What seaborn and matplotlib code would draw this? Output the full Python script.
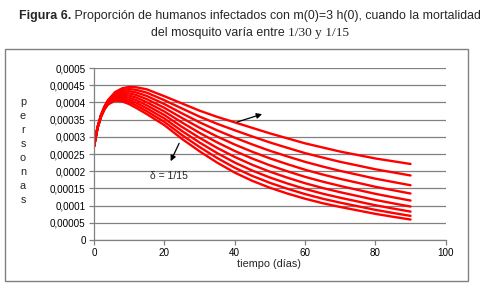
import matplotlib
matplotlib.use("Agg")
import matplotlib.pyplot as plt
from matplotlib import font_manager
from matplotlib.patches import Rectangle
import seaborn as sns
import pandas as pd

# ---------------- data (values in units of 1e-4 personas) ----------------
tiempo = [0, 1, 2, 3, 4, 6, 8, 10, 12, 15, 20, 25, 30, 35, 40, 45, 50, 55, 60, 65, 70, 75, 80, 85, 90]

curva_1 = [2.72, 3.280, 3.640, 3.890, 4.070, 4.300, 4.410, 4.450, 4.440, 4.380, 4.180, 3.970, 3.760, 3.580, 3.420, 3.260, 3.100, 2.955, 2.810, 2.690, 2.570, 2.470, 2.370, 2.290, 2.210]
curva_2 = [2.72, 3.276, 3.633, 3.879, 4.054, 4.269, 4.363, 4.388, 4.365, 4.283, 4.064, 3.824, 3.587, 3.378, 3.190, 3.010, 2.836, 2.679, 2.526, 2.397, 2.272, 2.165, 2.056, 1.966, 1.876]
curva_3 = [2.72, 3.273, 3.625, 3.868, 4.038, 4.238, 4.315, 4.325, 4.290, 4.188, 3.952, 3.683, 3.422, 3.188, 2.976, 2.778, 2.594, 2.429, 2.272, 2.136, 2.009, 1.897, 1.783, 1.687, 1.592]
curva_4 = [2.72, 3.269, 3.618, 3.856, 4.021, 4.206, 4.268, 4.263, 4.215, 4.095, 3.843, 3.547, 3.265, 3.008, 2.776, 2.565, 2.373, 2.203, 2.043, 1.904, 1.777, 1.663, 1.547, 1.448, 1.351]
curva_5 = [2.72, 3.265, 3.610, 3.845, 4.005, 4.175, 4.220, 4.200, 4.140, 4.004, 3.736, 3.416, 3.115, 2.838, 2.589, 2.368, 2.171, 1.997, 1.836, 1.697, 1.571, 1.457, 1.342, 1.243, 1.147]
curva_6 = [2.72, 3.261, 3.603, 3.834, 3.989, 4.144, 4.173, 4.138, 4.065, 3.915, 3.633, 3.290, 2.971, 2.678, 2.415, 2.186, 1.986, 1.811, 1.651, 1.512, 1.389, 1.277, 1.164, 1.067, 0.973]
curva_7 = [2.72, 3.258, 3.595, 3.823, 3.973, 4.113, 4.125, 4.075, 3.990, 3.828, 3.533, 3.169, 2.835, 2.527, 2.253, 2.018, 1.817, 1.642, 1.485, 1.347, 1.228, 1.119, 1.010, 0.916, 0.826]
curva_8 = [2.72, 3.254, 3.588, 3.811, 3.956, 4.081, 4.078, 4.013, 3.915, 3.743, 3.435, 3.052, 2.704, 2.385, 2.101, 1.863, 1.662, 1.489, 1.335, 1.201, 1.086, 0.981, 0.876, 0.786, 0.701]
curva_9 = [2.72, 3.250, 3.580, 3.800, 3.940, 4.050, 4.030, 3.950, 3.840, 3.660, 3.340, 2.940, 2.580, 2.250, 1.960, 1.720, 1.520, 1.350, 1.200, 1.070, 0.960, 0.860, 0.760, 0.675, 0.595]

curvas = [curva_1, curva_2, curva_3, curva_4, curva_5, curva_6, curva_7, curva_8, curva_9]

y_ticks = [0, 0.5, 1.0, 1.5, 2.0, 2.5, 3.0, 3.5, 4.0, 4.5, 5.0]
y_ticklabels = ["0", "0,00005", "0,0001", "0,00015", "0,0002", "0,00025",
                "0,0003", "0,00035", "0,0004", "0,00045", "0,0005"]
x_ticks = [0, 20, 40, 60, 80, 100]
x_ticklabels = ["0", "20", "40", "60", "80", "100"]

# ---------------- style ----------------
sns.set_style("white")
available = {f.name for f in font_manager.fontManager.ttflist}
SANS = "Liberation Sans" if "Liberation Sans" in available else "DejaVu Sans"
SERIF = "Liberation Serif" if "Liberation Serif" in available else "DejaVu Serif"
plt.rcParams["font.family"] = [SANS, "DejaVu Sans"]

rows = []
for i, c in enumerate(curvas):
    for t, v in zip(tiempo, c):
        rows.append({"tiempo": t, "valor": v, "curva": f"c{i}"})
df = pd.DataFrame(rows)

W, H = 485, 298
fig = plt.figure(figsize=(W / 100, H / 100), dpi=100)
fig.patch.set_facecolor("white")

# outer chart frame
fig.patches.append(Rectangle((5 / W, 1 - 281 / H), 463 / W, 232 / H,
                             transform=fig.transFigure, fill=False,
                             edgecolor="#808080", linewidth=1.0))

ax = fig.add_axes([94 / W, 1 - 240 / H, (445.7 - 94) / W, (240 - 68) / H])
sns.lineplot(data=df, x="tiempo", y="valor", hue="curva",
             palette=["#FF0000"] * len(curvas), linewidth=1.7,
             legend=False, ax=ax, sort=False)

ax.set_xlim(0, 100)
ax.set_ylim(0, 5)
ax.set_xticks(x_ticks)
ax.set_xticklabels(x_ticklabels)
ax.set_yticks(y_ticks)
ax.set_yticklabels(y_ticklabels)
ax.yaxis.grid(True, color="#808080", linewidth=0.9)
ax.xaxis.grid(False)
ax.set_axisbelow(True)
for s in ["top", "right"]:
    ax.spines[s].set_visible(False)
for s in ["left", "bottom"]:
    ax.spines[s].set_color("#808080")
    ax.spines[s].set_linewidth(0.9)
ax.tick_params(axis="both", which="major", direction="out", length=3.5,
               width=0.9, color="#808080", labelsize=7.1, pad=2.5,
               labelcolor="black")
ax.tick_params(axis="y", left=True)
ax.tick_params(axis="x", bottom=True)
ax.set_xlabel("")
ax.set_ylabel("")

# axis titles
fig.text(269 / W, 1 - 264 / H, "tiempo (días)", ha="center", va="center", fontsize=7.8)
fig.text(23 / W, 1 - 151 / H, "p\ne\nr\ns\no\nn\na\ns", ha="center", va="center",
         fontsize=7.8, linespacing=1.5)

# annotations
ax.annotate("", xy=(47.8, 3.66), xytext=(40.7, 3.43),
            arrowprops=dict(arrowstyle="-|>", color="black", lw=0.9,
                            mutation_scale=8, shrinkA=0, shrinkB=0))
ax.annotate("", xy=(21.8, 2.29), xytext=(24.2, 2.81),
            arrowprops=dict(arrowstyle="-|>", color="black", lw=0.9,
                            mutation_scale=8, shrinkA=0, shrinkB=0))
ax.text(15.9, 1.86, "δ = 1/15", fontsize=7.5, ha="left", va="center")

# title (mixed weights / fonts)
fig.canvas.draw()
renderer = fig.canvas.get_renderer()

def place_line(parts, y, center_x):
    texts = []
    for s, kw in parts:
        t = fig.text(0, y, s, ha="left", va="center", **kw)
        texts.append(t)
    widths = [t.get_window_extent(renderer).width for t in texts]
    total = sum(widths)
    x = center_x - total / 2
    for t, w in zip(texts, widths):
        t.set_x(x / W)
        x += w

tkw = dict(family=[SANS, "DejaVu Sans"], fontsize=8.9)

place_line([("Figura 6.", dict(weight="bold", **tkw)),
            (" Proporción de humanos infectados con m(0)=3 h(0), cuando la mortalidad", dict(**tkw))],
           1 - 16 / H, 250)
place_line([("del mosquito varía entre ", dict(**tkw)),
            ("1/30 y 1/15", dict(family=[SERIF, "DejaVu Serif"], fontsize=9.6))],
           1 - 33 / H, 250)

fig.savefig("out.png", dpi=100, facecolor="white")
